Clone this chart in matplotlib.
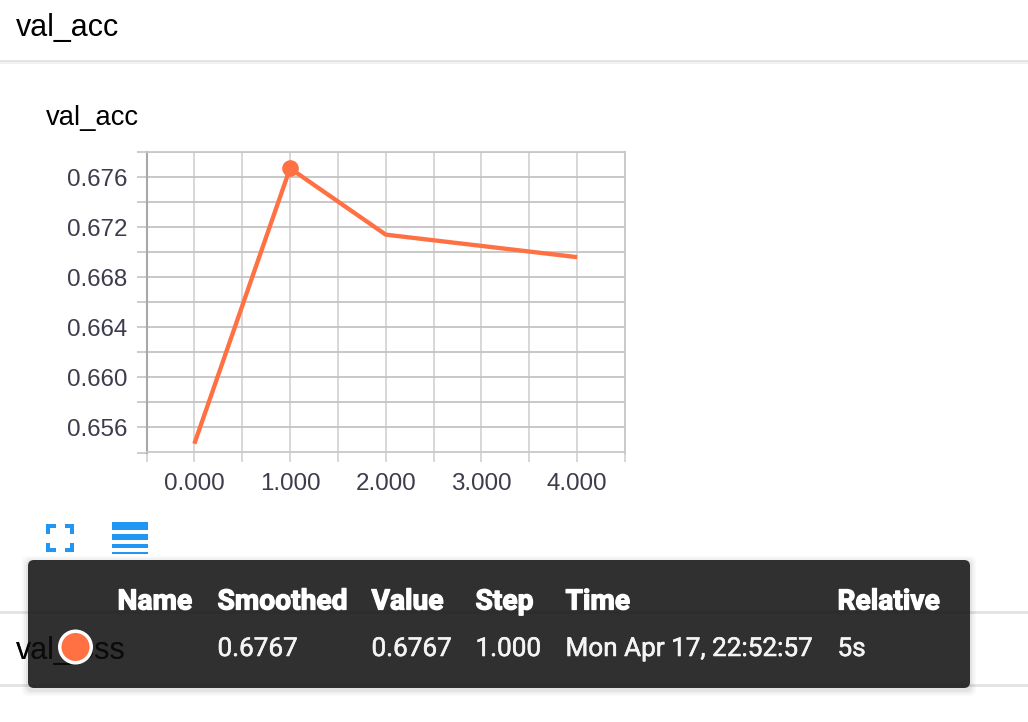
import matplotlib
matplotlib.use("Agg")
import matplotlib.pyplot as plt
import matplotlib.patheffects as pe
from matplotlib.patches import FancyBboxPatch, Rectangle, Circle

steps = [0, 1, 2, 3, 4]
val_acc = [0.6547, 0.6767, 0.6714, 0.6705, 0.6696]
highlight = 1
xticks = [-0.5, 0, 0.5, 1, 1.5, 2, 2.5, 3, 3.5, 4, 4.5]
xlabels = ["", "0.000", "", "1.000", "", "2.000", "", "3.000", "", "4.000", ""]
yticks = [0.654, 0.656, 0.658, 0.660, 0.662, 0.664, 0.666, 0.668, 0.670, 0.672, 0.674, 0.676, 0.678]
ylabels = ["", "0.656", "", "0.660", "", "0.664", "", "0.668", "", "0.672", "", "0.676", ""]
headers = ["Name", "Smoothed", "Value", "Step", "Time", "Relative"]
row = ["", "0.6767", "0.6767", "1.000", "Mon Apr 17, 22:52:57", "5s"]
columns_x = [117.5, 217.5, 371.5, 475.5, 565.5, 837.5]

ORANGE = "#ff7043"
W, H = 1028, 722

fig = plt.figure(figsize=(W / 100, H / 100), dpi=100, facecolor="white")

# chart, placed in pixels
ax = fig.add_axes([146.5 / W, 1 - 452.5 / H, 478.5 / W, 300.5 / H])
ax.set_xlim(-0.5, 4.5)
ax.set_ylim(0.654, 0.678)
ax.set_xticks(xticks)
ax.set_xticklabels(xlabels)
ax.set_yticks(yticks)
ax.set_yticklabels(ylabels)
ax.tick_params(axis="x", length=7, width=1.3, color="#d4d4d4", pad=8,
               labelsize=17.4, labelcolor="#3c3c4c")
ax.tick_params(axis="y", length=7, width=1.3, color="#c8c8c8", pad=7,
               labelsize=17.4, labelcolor="#3c3c4c")
for lab in ax.get_xticklabels() + ax.get_yticklabels():
    lab.set_fontfamily("Liberation Sans")
ax.grid(True, axis="x", color="#d4d4d4", lw=1.3)
ax.grid(True, axis="y", color="#c4c4c4", lw=1.3)
ax.set_axisbelow(True)
for name in ["top", "right", "bottom"]:
    ax.spines[name].set_color("#c8c8c8")
    ax.spines[name].set_linewidth(1.3)
ax.spines["left"].set_color("#a8a8a8")
ax.spines["left"].set_linewidth(1.5)

ax.plot(steps, val_acc, color=ORANGE, lw=3.1, solid_capstyle="butt", solid_joinstyle="miter", clip_on=False)
ax.plot(steps[highlight], val_acc[highlight], "o", color=ORANGE, ms=12, mew=0, clip_on=False)

# page furniture, in pixel coordinates
page = fig.add_axes([0, 0, 1, 1], facecolor="none")
page.set_xlim(0, W)
page.set_ylim(H, 0)
page.axis("off")

for y, lw in [(60.5, 2.0), (611.5, 2.0), (685, 2.0)]:
    page.plot([0, W], [y, y], color="#e2e2e2", lw=lw, zorder=1)
page.plot([0, W], [62.5, 62.5], color="#f1f1f1", lw=1.5, zorder=1)

page.text(16, 28, "val_acc", fontsize=22, family="Liberation Sans", color="black", va="center")
page.text(46, 118, "val_acc", fontsize=19.7, family="Liberation Sans", color="black", va="center")
page.text(16, 651, "val_loss", fontsize=22, family="Liberation Sans", color="black", va="center", zorder=2)

# fullscreen icon
BLUE = "#2196f3"
for x0, y0, dx, dy in [(46, 524, 1, 1), (74, 524, -1, 1), (46, 552, 1, -1), (74, 552, -1, -1)]:
    page.add_patch(Rectangle((x0, y0), dx * 9.5, dy * 4, fc=BLUE, ec="none", zorder=2))
    page.add_patch(Rectangle((x0, y0), dx * 4, dy * 9.5, fc=BLUE, ec="none", zorder=2))

# list icon, cut by the tooltip
for y0, h in [(522, 8), (534, 6), (544, 4), (552, 2)]:
    page.add_patch(Rectangle((112, y0), 36, h, fc=BLUE, ec="none", zorder=2))

# tooltip with soft shadow
for grow, alpha in [(6, 0.025), (4, 0.035), (2, 0.05)]:
    page.add_patch(FancyBboxPatch((34 - grow, 566 - grow + 2), 930 + 2 * grow, 116 + 2 * grow,
                                  boxstyle="round,pad=6,rounding_size=6",
                                  fc="black", ec="none", alpha=alpha, zorder=3))
page.add_patch(FancyBboxPatch((34, 566), 930, 116, boxstyle="round,pad=6,rounding_size=6",
                              fc="#1c1c1c", ec="none", alpha=0.9, zorder=4))
# the black page title still reads through the tooltip
page.text(16, 651, "val_loss", fontsize=22, family="Liberation Sans", color="black", va="center",
          alpha=0.55, zorder=4.5)

heavy = [pe.withStroke(linewidth=0.9, foreground="white")]
for x, label in zip(columns_x, headers):
    page.text(x, 602, label, fontsize=20.3, family="Roboto", weight="bold", color="white",
              va="center", zorder=6, path_effects=heavy)
light = [pe.withStroke(linewidth=0.4, foreground="#f4f4f4")]
for x, label in zip(columns_x, row):
    page.text(x, 649, label, fontsize=18.8, family="Roboto", color="#f4f4f4",
              va="center", zorder=6, path_effects=light)

page.add_patch(Circle((75.5, 647), 17.5, fc="white", ec="none", zorder=5))
page.add_patch(Circle((75.5, 647), 14, fc=ORANGE, ec="none", zorder=6))

fig.savefig("out.png", dpi=100)
